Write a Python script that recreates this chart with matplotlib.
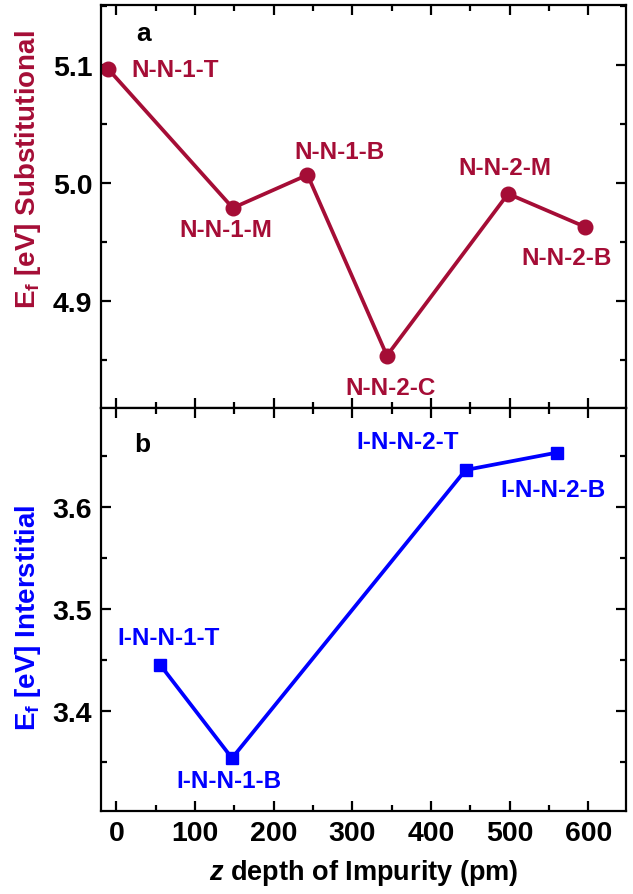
import matplotlib
matplotlib.use("Agg")
import matplotlib.pyplot as plt
from matplotlib.ticker import MultipleLocator

plt.rcParams['font.family'] = ['Liberation Sans', 'DejaVu Sans']
plt.rcParams['font.weight'] = 'bold'
plt.rcParams['mathtext.fontset'] = 'custom'
plt.rcParams['mathtext.rm'] = 'Liberation Sans:bold'
plt.rcParams['mathtext.it'] = 'Liberation Sans:italic:bold'
plt.rcParams['mathtext.bf'] = 'Liberation Sans:bold'

# ---- data ----
sub_z = [-11, 148, 243, 344, 498, 596]
sub_E = [5.097, 4.979, 5.007, 4.854, 4.991, 4.963]
sub_labels = ['N-N-1-T', 'N-N-1-M', 'N-N-1-B', 'N-N-2-C', 'N-N-2-M', 'N-N-2-B']
sub_label_pos = [(75, 5.096), (139, 4.961), (284, 5.027), (349, 4.827), (494, 5.013), (572, 4.937)]

int_z = [56, 147, 444, 560]
int_E = [3.445, 3.354, 3.636, 3.653]
int_labels = ['I-N-N-1-T', 'I-N-N-1-B', 'I-N-N-2-T', 'I-N-N-2-B']
int_label_pos = [(66, 3.472), (143, 3.332), (370, 3.664), (555, 3.617)]

red = '#A50D36'
blue = '#0000FF'

fig = plt.figure(figsize=(6.33, 8.95), dpi=100)
ax1 = fig.add_axes([0.159, 0.5434, 0.830, 0.4502])
ax2 = fig.add_axes([0.159, 0.0924, 0.830, 0.4510])

ax1.plot(sub_z, sub_E, '-o', color=red, lw=2.7, ms=10.5)
for lab, (x, y) in zip(sub_labels, sub_label_pos):
    ax1.text(x, y, lab, color=red, fontsize=17.5, fontweight='bold', ha='center', va='center')
ax1.text(35, 5.127, 'a', fontsize=19, fontweight='bold', ha='center', va='center')

ax2.plot(int_z, int_E, '-s', color=blue, lw=2.7, ms=8.5)
for lab, (x, y) in zip(int_labels, int_label_pos):
    ax2.text(x, y, lab, color=blue, fontsize=17.5, fontweight='bold', ha='center', va='center')
ax2.text(33, 3.661, 'b', fontsize=19, fontweight='bold', ha='center', va='center')

for ax in (ax1, ax2):
    ax.set_xlim(-20, 648)
    ax.xaxis.set_major_locator(MultipleLocator(100))
    ax.xaxis.set_minor_locator(MultipleLocator(50))
    ax.tick_params(which='both', direction='in', top=True, right=True, width=1.6,
                   labelsize=20.5, pad=6)
    ax.tick_params(which='major', length=7.5)
    ax.tick_params(which='minor', length=4.5)
    for s in ax.spines.values():
        s.set_linewidth(1.6)

ax1.set_ylim(4.81, 5.151)
ax1.yaxis.set_major_locator(MultipleLocator(0.1))
ax1.yaxis.set_minor_locator(MultipleLocator(0.05))
ax1.yaxis.set_major_formatter(matplotlib.ticker.FormatStrFormatter('%.1f'))
ax1.tick_params(labelbottom=False)
ax1.set_ylabel(r'$\mathregular{E_f}$ [eV] Substitutional', color=red, fontsize=20, fontweight='bold')
ax1.yaxis.set_label_coords(-0.11, 0.592)

ax2.set_ylim(3.302, 3.697)
ax2.yaxis.set_major_locator(MultipleLocator(0.1))
ax2.yaxis.set_minor_locator(MultipleLocator(0.05))
ax2.yaxis.set_major_formatter(matplotlib.ticker.FormatStrFormatter('%.1f'))
ax2.set_ylabel(r'$\mathregular{E_f}$ [eV] Interstitial', color=blue, fontsize=20, fontweight='bold')
ax2.yaxis.set_label_coords(-0.11, 0.482)
ax2.set_xlabel(r'$z$ depth of Impurity (pm)', fontsize=19.5, fontweight='bold', labelpad=8)

fig.savefig('out.png', dpi=100)
